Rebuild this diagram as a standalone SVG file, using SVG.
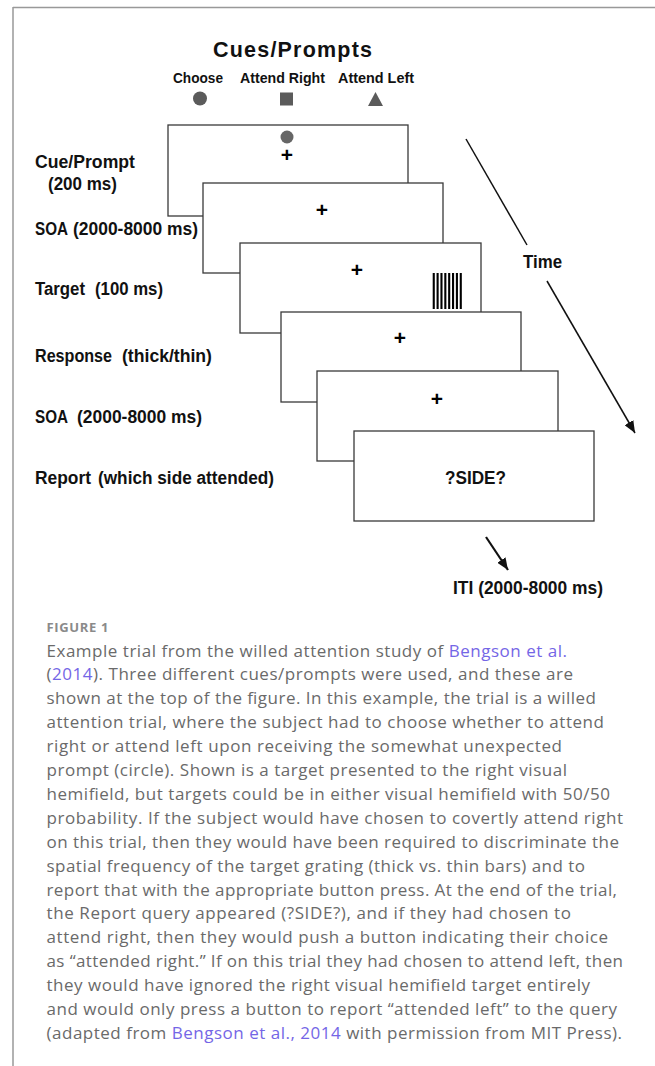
<svg xmlns="http://www.w3.org/2000/svg" width="655" height="1066" viewBox="0 0 655 1066">
<style>
.lbl{font-family:"Liberation Sans",Arial,sans-serif;font-weight:bold;fill:#111}
.scr{fill:#fff;stroke:#3a3a3a;stroke-width:1.3}
.fix{font-family:"Liberation Sans",Arial,sans-serif;font-weight:bold;font-size:21px;text-anchor:middle;fill:#000}
.cap{font-family:"Open Sans","Liberation Sans",sans-serif;font-size:17px;fill:#6a6a6a}
.fig{font-family:"Open Sans","Liberation Sans",sans-serif;font-size:13px;font-weight:bold;fill:#8a8a8a}
.lnk{fill:#7466e6}
.sym{fill:#5b5b5b}
.arr{stroke:#111;fill:none}
</style>
<defs>
<marker id="ah" markerUnits="userSpaceOnUse" markerWidth="13" markerHeight="10" refX="12" refY="5" orient="auto">
<path d="M0,0 L12,5 L0,10 z" fill="#111"/>
</marker>
</defs>
<g id="frame">
<line x1="13" y1="7.5" x2="655" y2="7.5" stroke="#999" stroke-width="1.5"/>
<line x1="13" y1="7" x2="13" y2="1066" stroke="#999" stroke-width="1.5"/>
</g>
<g id="title">
<text class="lbl" x="213" y="57" font-size="21.5" textLength="159" lengthAdjust="spacing">Cues/Prompts</text>
</g>
<g id="cue-choose">
<text class="lbl" x="173" y="83" font-size="15.5" textLength="50" lengthAdjust="spacingAndGlyphs">Choose</text>
<circle class="sym" cx="200" cy="98.5" r="7"/>
</g>
<g id="cue-attend-right">
<text class="lbl" x="240" y="83" font-size="15.5" textLength="85" lengthAdjust="spacingAndGlyphs">Attend Right</text>
<rect class="sym" x="280" y="92.5" width="13" height="13"/>
</g>
<g id="cue-attend-left">
<text class="lbl" x="338" y="83" font-size="15.5" textLength="76" lengthAdjust="spacingAndGlyphs">Attend Left</text>
<polygon class="sym" points="375.5,92 383,106 368,106"/>
</g>
<g id="label-cue">
<text class="lbl" x="35" y="168" font-size="17.5" textLength="100" lengthAdjust="spacingAndGlyphs">Cue/Prompt</text>
<text class="lbl" x="48" y="190" font-size="17.5" textLength="69" lengthAdjust="spacingAndGlyphs">(200 ms)</text>
</g>
<g id="label-soa1">
<text class="lbl" x="35" y="235" font-size="17.5" textLength="33" lengthAdjust="spacingAndGlyphs">SOA</text>
<text class="lbl" x="73" y="235" font-size="17.5" textLength="125" lengthAdjust="spacingAndGlyphs">(2000-8000 ms)</text>
</g>
<g id="label-target">
<text class="lbl" x="35" y="295" font-size="17.5" textLength="50" lengthAdjust="spacingAndGlyphs">Target</text>
<text class="lbl" x="95" y="295" font-size="17.5" textLength="68" lengthAdjust="spacingAndGlyphs">(100 ms)</text>
</g>
<g id="label-response">
<text class="lbl" x="35" y="362" font-size="18" textLength="77" lengthAdjust="spacingAndGlyphs">Response</text>
<text class="lbl" x="122" y="362" font-size="18" textLength="90" lengthAdjust="spacingAndGlyphs">(thick/thin)</text>
</g>
<g id="label-soa2">
<text class="lbl" x="35" y="423" font-size="18" textLength="33" lengthAdjust="spacingAndGlyphs">SOA</text>
<text class="lbl" x="77" y="423" font-size="18" textLength="125" lengthAdjust="spacingAndGlyphs">(2000-8000 ms)</text>
</g>
<g id="label-report">
<text class="lbl" x="35" y="484" font-size="18" textLength="56" lengthAdjust="spacingAndGlyphs">Report</text>
<text class="lbl" x="98" y="484" font-size="18" textLength="176" lengthAdjust="spacingAndGlyphs">(which side attended)</text>
</g>
<g id="screen-cue">
<rect class="scr" x="168" y="125" width="240" height="91"/>
<circle cx="287" cy="137" r="6.5" fill="#666"/>
<text class="fix" x="287" y="161.5">+</text>
</g>
<g id="screen-soa1">
<rect class="scr" x="203" y="183" width="240" height="90"/>
<text class="fix" x="322" y="217">+</text>
</g>
<g id="screen-target">
<rect class="scr" x="240" y="243" width="241" height="90"/>
<text class="fix" x="357" y="276.5">+</text>
<g fill="#000">
<rect x="432.7" y="273" width="2.1" height="36"/>
<rect x="436.56" y="273" width="2.1" height="36"/>
<rect x="440.42" y="273" width="2.1" height="36"/>
<rect x="444.28" y="273" width="2.1" height="36"/>
<rect x="448.14" y="273" width="2.1" height="36"/>
<rect x="452.0" y="273" width="2.1" height="36"/>
<rect x="455.86" y="273" width="2.1" height="36"/>
<rect x="459.72" y="273" width="2.1" height="36"/>
</g>
</g>
<g id="screen-response">
<rect class="scr" x="281" y="312" width="240" height="90"/>
<text class="fix" x="400" y="345">+</text>
</g>
<g id="screen-soa2">
<rect class="scr" x="317" y="371" width="241" height="90"/>
<text class="fix" x="437" y="406">+</text>
</g>
<g id="screen-report">
<rect class="scr" x="354" y="431" width="240" height="90"/>
<text class="lbl" x="445" y="484" font-size="18" textLength="61" lengthAdjust="spacingAndGlyphs">?SIDE?</text>
</g>
<g id="time-label">
<text class="lbl" x="523" y="268" font-size="18" textLength="39" lengthAdjust="spacingAndGlyphs">Time</text>
</g>
<g id="iti-label">
<text class="lbl" x="453" y="594" font-size="18" textLength="150" lengthAdjust="spacingAndGlyphs">ITI (2000-8000 ms)</text>
</g>
<g id="connectors">
<line class="arr" x1="466" y1="139" x2="527" y2="245" stroke-width="1.5"/>
<line class="arr" x1="547" y1="281" x2="635" y2="433" stroke-width="1.5" marker-end="url(#ah)"/>
<line class="arr" x1="486" y1="537" x2="508" y2="570" stroke-width="2.2" marker-end="url(#ah)"/>
</g>
<g id="caption">
<text class="fig" x="46.5" y="632" textLength="62" lengthAdjust="spacing">FIGURE 1</text>
<text class="cap" x="46.5" y="656.5" textLength="520.5" lengthAdjust="spacing">Example trial from the willed attention study of <tspan class="lnk">Bengson et al.</tspan></text>
<text class="cap" x="46.5" y="680.4" textLength="526.5" lengthAdjust="spacing">(<tspan class="lnk">2014</tspan>). Three different cues/prompts were used, and these are</text>
<text class="cap" x="46.5" y="704.3" textLength="549.5" lengthAdjust="spacing">shown at the top of the figure. In this example, the trial is a willed</text>
<text class="cap" x="46.5" y="728.2" textLength="557.5" lengthAdjust="spacing">attention trial, where the subject had to choose whether to attend</text>
<text class="cap" x="46.5" y="752.1" textLength="515.5" lengthAdjust="spacing">right or attend left upon receiving the somewhat unexpected</text>
<text class="cap" x="46.5" y="776" textLength="520.5" lengthAdjust="spacing">prompt (circle). Shown is a target presented to the right visual</text>
<text class="cap" x="46.5" y="799.9" textLength="563.5" lengthAdjust="spacing">hemifield, but targets could be in either visual hemifield with 50/50</text>
<text class="cap" x="46.5" y="823.8" textLength="576.5" lengthAdjust="spacing">probability. If the subject would have chosen to covertly attend right</text>
<text class="cap" x="46.5" y="847.7" textLength="572.5" lengthAdjust="spacing">on this trial, then they would have been required to discriminate the</text>
<text class="cap" x="46.5" y="871.6" textLength="538.5" lengthAdjust="spacing">spatial frequency of the target grating (thick vs. thin bars) and to</text>
<text class="cap" x="46.5" y="895.5" textLength="570.5" lengthAdjust="spacing">report that with the appropriate button press. At the end of the trial,</text>
<text class="cap" x="46.5" y="919.4" textLength="524.5" lengthAdjust="spacing">the Report query appeared (?SIDE?), and if they had chosen to</text>
<text class="cap" x="46.5" y="943.3" textLength="561.5" lengthAdjust="spacing">attend right, then they would push a button indicating their choice</text>
<text class="cap" x="46.5" y="967.2" textLength="576.5" lengthAdjust="spacing">as “attended right.” If on this trial they had chosen to attend left, then</text>
<text class="cap" x="46.5" y="991.1" textLength="543.5" lengthAdjust="spacing">they would have ignored the right visual hemifield target entirely</text>
<text class="cap" x="46.5" y="1015" textLength="570.5" lengthAdjust="spacing">and would only press a button to report “attended left” to the query</text>
<text class="cap" x="46.5" y="1038.9" textLength="575.5" lengthAdjust="spacing">(adapted from <tspan class="lnk">Bengson et al., 2014</tspan> with permission from MIT Press).</text>
</g>
</svg>
